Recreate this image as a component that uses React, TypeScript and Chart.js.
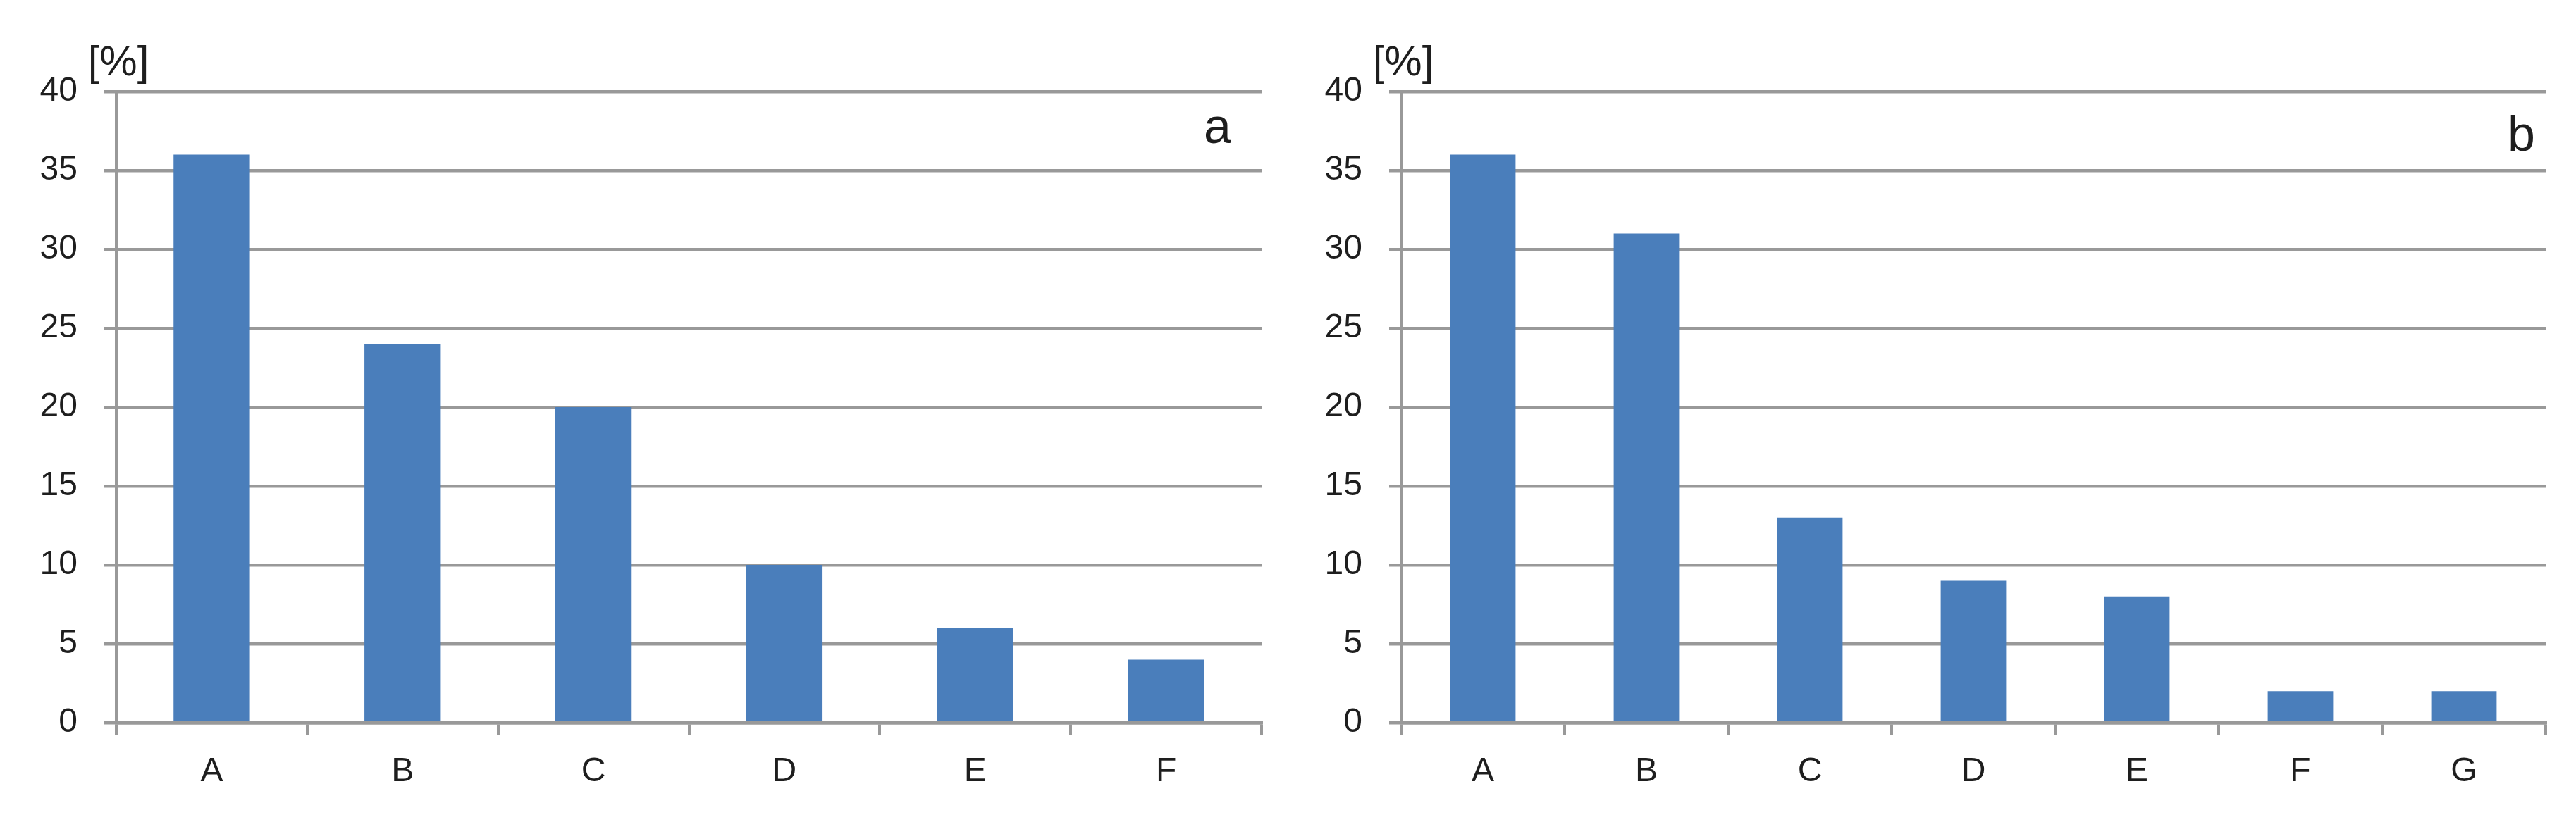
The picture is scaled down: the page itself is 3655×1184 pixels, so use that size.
import React, { useEffect, useRef } from "react";
import { Chart, registerables } from "chart.js";

Chart.register(...registerables);

const categoriesA = ["A", "B", "C", "D", "E", "F"];
const valuesA = [36, 24, 20, 10, 6, 4];
const categoriesB = ["A", "B", "C", "D", "E", "F", "G"];
const valuesB = [36, 31, 13, 9, 8, 2, 2];
const yMin = 0;
const yMax = 40;
const yStep = 5;
const unitLabel = "[%]";
const panelLabelA = "a";
const panelLabelB = "b";

const GRID = "#999999";
const BAR = "#4a7ebb";
const TEXT = "#1e1e1e";
const FONT = "'Liberation Sans', Arial, sans-serif";

type PanelProps = {
  labels: string[];
  values: number[];
  panel: string;
  left: number;
  width: number;
  axisWidth: number;
  padRight: number;
  panelDx: number;
  panelDy: number;
};

function Panel(p: PanelProps) {
  const ref = useRef<HTMLCanvasElement | null>(null);
  useEffect(() => {
    if (!ref.current) return;
    const textPlugin = {
      id: "panelText",
      afterDraw(chart: any) {
        const { ctx, chartArea } = chart;
        ctx.save();
        ctx.fillStyle = TEXT;
        ctx.font = `60px ${FONT}`;
        ctx.textAlign = "center";
        ctx.textBaseline = "middle";
        ctx.fillText(unitLabel, chartArea.left + 3, chartArea.top - 40);
        ctx.font = `70px ${FONT}`;
        ctx.textAlign = "right";
        ctx.textBaseline = "alphabetic";
        ctx.fillText(p.panel, chartArea.right - p.panelDx, chartArea.top + p.panelDy);
        ctx.restore();
      },
    };
    const chart = new Chart(ref.current, {
      type: "bar",
      data: {
        labels: p.labels,
        datasets: [
          {
            data: p.values,
            backgroundColor: BAR,
            borderWidth: 0,
            categoryPercentage: 1,
            barPercentage: 0.4,
          },
        ],
      },
      options: {
        animation: false,
        responsive: true,
        maintainAspectRatio: false,
        events: [],
        layout: { padding: { left: 0, right: p.padRight, top: 130, bottom: 0 } },
        plugins: { legend: { display: false }, tooltip: { enabled: false } },
        scales: {
          x: {
            grid: {
              display: true,
              drawOnChartArea: false,
              drawTicks: true,
              tickLength: 17,
              color: GRID,
              lineWidth: 4,
              offset: true,
            },
            border: { display: true, color: GRID, width: 4.5 },
            ticks: { color: TEXT, font: { family: FONT, size: 48 }, padding: 24 },
            afterFit(scale: any) {
              scale.height = 158;
            },
          },
          y: {
            min: yMin,
            max: yMax,
            grid: { color: GRID, lineWidth: 4.5, tickLength: 17, drawTicks: true },
            border: { display: true, color: GRID, width: 4.5 },
            ticks: { stepSize: yStep, color: TEXT, font: { family: FONT, size: 48 }, padding: 38 },
            afterFit(scale: any) {
              scale.width = p.axisWidth;
            },
          },
        },
      },
      plugins: [textPlugin],
    });
    return () => chart.destroy();
  }, []);
  return (
    <div style={{ position: "absolute", left: p.left, top: 0, width: p.width, height: 1184 }}>
      <canvas ref={ref} />
    </div>
  );
}

export default function App() {
  return (
    <div style={{ position: "fixed", left: 0, top: 0, width: 3655, height: 1184, background: "#fff" }}>
      <Panel labels={categoriesA} values={valuesA} panel={panelLabelA} left={0} width={1830} axisWidth={165} padRight={40} panelDx={43} panelDy={73} />
      <Panel labels={categoriesB} values={valuesB} panel={panelLabelB} left={1830} width={1825} axisWidth={158} padRight={43} panelDx={15} panelDy={84} />
    </div>
  );
}
